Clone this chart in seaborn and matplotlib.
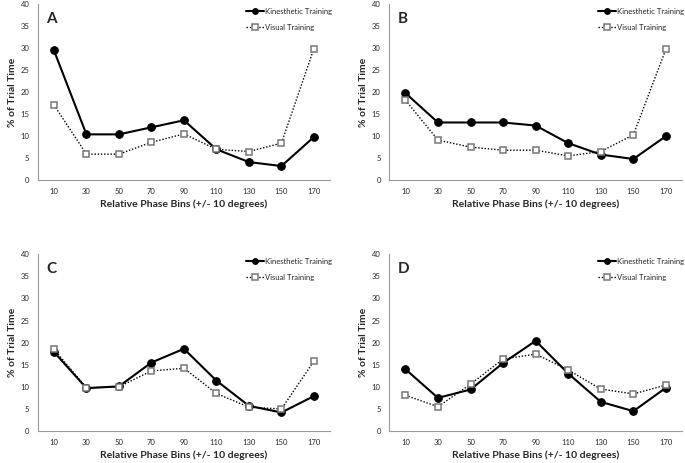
import numpy as np
import pandas as pd
import matplotlib
matplotlib.use("Agg")
import matplotlib.pyplot as plt
import seaborn as sns

# Dati
bins = [10, 30, 50, 70, 90, 110, 130, 150, 170]
panels = ["A", "B", "C", "D"]

kin_a = [29.5, 10.4, 10.4, 12.0, 13.6, 7.0, 4.1, 3.2, 9.8]
vis_a = [17.1, 5.9, 5.9, 8.6, 10.5, 7.0, 6.5, 8.4, 29.9]
kin_b = [19.8, 13.1, 13.1, 13.1, 12.4, 8.4, 5.8, 4.8, 10.0]
vis_b = [18.2, 9.1, 7.5, 6.8, 6.8, 5.5, 6.5, 10.3, 29.8]
kin_c = [17.9, 9.7, 10.1, 15.5, 18.6, 11.4, 5.7, 4.2, 7.9]
vis_c = [18.5, 9.8, 10.0, 13.6, 14.2, 8.5, 5.4, 5.0, 15.8]
kin_d = [14.0, 7.5, 9.4, 15.4, 20.4, 13.0, 6.6, 4.5, 9.8]
vis_d = [8.1, 5.5, 10.6, 16.3, 17.4, 13.8, 9.5, 8.4, 10.4]

kin = [kin_a, kin_b, kin_c, kin_d]
vis = [vis_a, vis_b, vis_c, vis_d]

sns.set_style("white")
plt.rcParams['font.family'] = ['Lato', 'DejaVu Sans']

fig = plt.figure(figsize=(6.85, 4.63), dpi=100)
# posizioni degli assi [left, bottom, width, height]
boxes = [[0.055, 0.611, 0.427, 0.380],
         [0.568, 0.611, 0.428, 0.380],
         [0.055, 0.069, 0.427, 0.382],
         [0.568, 0.069, 0.428, 0.382]]

for i, p in enumerate(panels):
    ax = fig.add_axes(boxes[i])
    df = pd.DataFrame({"bin": bins * 2,
                       "val": kin[i] + vis[i],
                       "serie": ["Kinesthetic Training"] * 9 + ["Visual Training"] * 9})
    sns.lineplot(data=df[df.serie == "Kinesthetic Training"], x="bin", y="val", ax=ax,
                 color="black", lw=1.5, marker="o", markersize=5.5,
                 markerfacecolor="black", markeredgecolor="black",
                 label="Kinesthetic Training")
    sns.lineplot(data=df[df.serie == "Visual Training"], x="bin", y="val", ax=ax,
                 color="black", lw=1.0, linestyle=(0, (1, 1.3)), marker="s", markersize=5,
                 markerfacecolor="white", markeredgecolor="#777777", markeredgewidth=1.1,
                 label="Visual Training")
    ax.set_xlim(0, 180)
    ax.set_ylim(0, 40)
    ax.set_xticks(bins)
    ax.set_xticks(np.arange(0, 181, 20), minor=True)
    ax.set_yticks(np.arange(0, 41, 5))
    ax.tick_params(axis="x", which="major", length=0, labelsize=5.5, pad=6)
    ax.tick_params(axis="x", which="minor", length=3, width=0.6, color="#888888", direction="out")
    ax.tick_params(axis="y", length=3, width=0.6, color="#888888", direction="out", labelsize=5.5, pad=3)
    for s in ["top", "right"]:
        ax.spines[s].set_visible(False)
    for s in ["left", "bottom"]:
        ax.spines[s].set_color("#999999")
        ax.spines[s].set_linewidth(0.8)
    ax.set_xlabel("Relative Phase Bins (+/- 10 degrees)", fontsize=7.5, fontweight="bold", labelpad=3)
    ax.set_ylabel("% of Trial Time", fontsize=7.5, fontweight="bold", labelpad=2.5)
    ax.text(0.03, 0.955, p, transform=ax.transAxes, fontsize=11, fontweight="bold", va="top")
    ax.legend(loc="upper right", frameon=False, fontsize=5.5, handlelength=2.4,
              markerscale=0.75, borderaxespad=0.1, labelspacing=1.2, handletextpad=0.1,
              bbox_to_anchor=(1.02, 1.0))

fig.savefig("out.png", dpi=100)
